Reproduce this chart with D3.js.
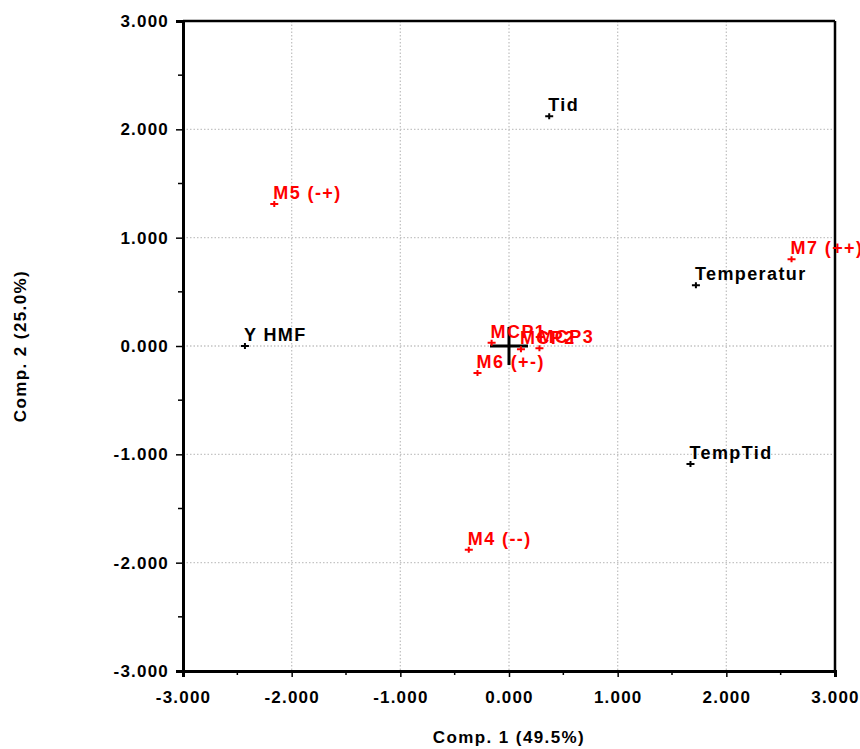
<!DOCTYPE html>
<head>
  <meta charset="utf-8">
  <script src="https://d3js.org/d3.v7.min.js"></script>
  <style>
    body { margin:0; background:#fff; font-family: "Liberation Sans", Arial, sans-serif; }
    text { font-weight: bold; }
  </style>
</head>
<body>
  <script>
    // scores (red) and loadings (black)
    var sampleNames = ["M5 (-+)", "M7 (++)", "MCP1", "MCP2", "MCP3", "M6 (+-)", "M4 (--)"];
    var sampleX = [-2.16, 2.60, -0.16, 0.11, 0.28, -0.29, -0.37];
    var sampleY = [1.31, 0.80, 0.03, -0.03, -0.02, -0.25, -1.88];

    var varNames = ["Tid", "Temperatur", "Y HMF", "TempTid"];
    var varX = [0.37, 1.72, -2.43, 1.67];
    var varY = [2.12, 0.56, 0.0, -1.09];

    var majorTicks = [-3, -2, -1, 0, 1, 2, 3];
    var minorTicks = [-2.5, -1.5, -0.5, 0.5, 1.5, 2.5];

    var margin = { top: 21, right: 25, bottom: 78, left: 183 };
    var width = 860 - margin.left - margin.right;
    var height = 749 - margin.top - margin.bottom;

    var svg = d3.select("body").append("svg")
      .attr("width", 860)
      .attr("height", 749)
      .append("g")
        .attr("transform", "translate(" + margin.left + "," + margin.top + ")");

    var x = d3.scaleLinear().domain([-3, 3]).range([0, width]);
    var y = d3.scaleLinear().domain([-3, 3]).range([height, 0]);
    var fmt = function(d) { return d3.format(".3f")(d).replace("\u2212", "-"); };

    // dotted grid
    svg.selectAll(".gx").data(majorTicks.slice(1, -1)).enter().append("line")
      .attr("x1", function(d) { return x(d); }).attr("x2", function(d) { return x(d); })
      .attr("y1", 0).attr("y2", height)
      .attr("stroke", "#c4c4c4").attr("stroke-width", 1.3).attr("stroke-dasharray", "1.5,2");
    svg.selectAll(".gy").data(majorTicks.slice(1, -1)).enter().append("line")
      .attr("y1", function(d) { return y(d); }).attr("y2", function(d) { return y(d); })
      .attr("x1", 0).attr("x2", width)
      .attr("stroke", "#c4c4c4").attr("stroke-width", 1.3).attr("stroke-dasharray", "1.5,2");

    // frame
    svg.append("line").attr("x1", 0).attr("x2", width).attr("y1", 0).attr("y2", 0)
      .attr("stroke", "#000").attr("stroke-width", 2.5);
    svg.append("line").attr("x1", width).attr("x2", width).attr("y1", 0).attr("y2", height)
      .attr("stroke", "#000").attr("stroke-width", 2.5);

    // axes
    var xg = svg.append("g").attr("transform", "translate(0," + height + ")");
    xg.call(d3.axisBottom(x).tickValues(majorTicks).tickFormat(fmt).tickSize(6).tickPadding(14));
    xg.selectAll(".minor").data(minorTicks).enter().append("line")
      .attr("x1", function(d) { return x(d); }).attr("x2", function(d) { return x(d); })
      .attr("y1", 0).attr("y2", 4).attr("stroke", "#000").attr("stroke-width", 1.5);

    var yg = svg.append("g");
    yg.call(d3.axisLeft(y).tickValues(majorTicks).tickFormat(fmt).tickSize(7).tickPadding(7));
    yg.selectAll(".minor").data(minorTicks).enter().append("line")
      .attr("y1", function(d) { return y(d); }).attr("y2", function(d) { return y(d); })
      .attr("x1", 0).attr("x2", -5).attr("stroke", "#000").attr("stroke-width", 1.5);

    [xg, yg].forEach(function(g) {
      g.select(".domain").attr("stroke-width", 3);
      g.selectAll(".tick line").attr("stroke-width", 1.5);
      g.selectAll("text").style("font-size", "17px").style("font-weight", "bold")
        .style("letter-spacing", "1.2px")
        .style("font-family", "Liberation Sans, Arial, sans-serif").attr("fill", "#000");
    });

    // axis titles
    svg.append("text").text("Comp. 1 (49.5%)")
      .attr("x", width / 2).attr("y", height + 72)
      .attr("text-anchor", "middle").style("font-size", "17px").style("letter-spacing", "1.4px");
    svg.append("text").text("Comp. 2 (25.0%)")
      .attr("text-anchor", "middle").style("font-size", "17px").style("letter-spacing", "1.4px")
      .attr("transform", "translate(-157," + (height / 2) + ") rotate(-90)");

    // origin cross
    svg.append("line").attr("x1", x(0) - 19).attr("x2", x(0) + 19)
      .attr("y1", y(0)).attr("y2", y(0)).attr("stroke", "#000").attr("stroke-width", 3);
    svg.append("line").attr("x1", x(0)).attr("x2", x(0))
      .attr("y1", y(0) - 19).attr("y2", y(0) + 19).attr("stroke", "#000").attr("stroke-width", 3);

    function drawPoints(names, xs, ys, color) {
      var pts = names.map(function(n, i) { return { name: n, x: xs[i], y: ys[i] }; });
      var g = svg.selectAll(null).data(pts).enter().append("g")
        .attr("transform", function(d) { return "translate(" + x(d.x) + "," + y(d.y) + ")"; });
      g.append("path").attr("d", "M-4,0H4M0,-3V3")
        .attr("stroke", color).attr("stroke-width", 2);
      g.append("text").text(function(d) { return d.name; })
        .attr("x", -1).attr("y", -5)
        .attr("fill", color).style("font-size", "18px").style("letter-spacing", "1.4px");
    }

    drawPoints(varNames, varX, varY, "#000");
    drawPoints(sampleNames, sampleX, sampleY, "#ff0000");
  </script>
</body>
